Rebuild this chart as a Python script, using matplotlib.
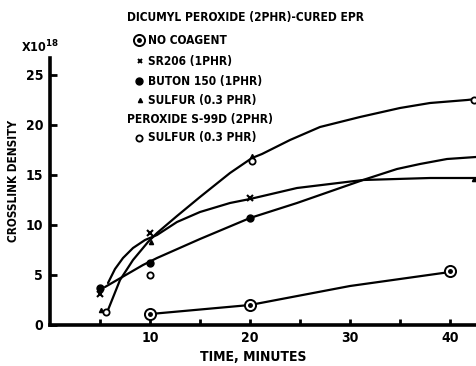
import matplotlib
matplotlib.use("Agg")
import matplotlib.pyplot as plt

# ---- data ----
# marker points
nc_x = [10, 20, 40];            nc_y = [1.1, 2.0, 5.4]          # no coagent
sr_x = [5, 10, 20];             sr_y = [3.1, 9.2, 12.7]         # SR206
bu_x = [5, 10, 20];             bu_y = [3.7, 6.2, 10.7]         # Buton 150
su_x = [5.1, 10.1, 20.2, 42.4]; su_y = [1.5, 8.3, 16.9, 14.6]   # sulfur (dicumyl)
s9_x = [5.6, 10, 20.2, 42.4];   s9_y = [1.35, 5.0, 16.4, 22.5]  # S-99D sulfur

# curves
nc_cx = [10.6, 20, 30, 40];     nc_cy = [1.15, 2.0, 3.9, 5.3]
sr_cx = [5.8, 6.5, 7.3, 8.3, 9.5, 10.7, 12.7, 15, 18, 20, 24.7, 31.3, 38, 42.6]
sr_cy = [4.2, 5.6, 6.7, 7.7, 8.5, 9.0, 10.3, 11.3, 12.2, 12.6, 13.7, 14.5, 14.7, 14.7]
bu_cx = [5.5, 9.3, 10.7, 15, 20, 24.7, 31.3, 34.7, 37, 39.7, 42.6]
bu_cy = [3.8, 6.0, 6.7, 8.6, 10.7, 12.2, 14.5, 15.6, 16.1, 16.6, 16.8]
su_cx = [5.8, 7.0, 8.3, 9.8, 10.7, 12.7, 15, 18, 20.2, 21.2, 24, 27, 31, 35, 38, 41.7, 42.6]
su_cy = [1.5, 4.5, 6.5, 8.3, 9.2, 10.9, 12.8, 15.2, 16.7, 17.1, 18.5, 19.8, 20.8, 21.7, 22.2, 22.5, 22.6]

x_major = [10, 20, 30, 40]
x_minor = [5, 15, 25, 35]
y_ticks = [0, 5, 10, 15, 20, 25]

W, H = 476, 366
fig = plt.figure(figsize=(W / 100, H / 100), dpi=100)
ax = fig.add_axes([50 / W, 1 - 325 / H, 1 - 50 / W, (325 - 58) / H])

fp = dict(family=['DejaVu Sans'], weight='bold', stretch='condensed')

lw = 1.6
for cx, cy in [(nc_cx, nc_cy), (sr_cx, sr_cy), (bu_cx, bu_cy), (su_cx, su_cy)]:
    ax.plot(cx, cy, color='black', lw=lw, solid_capstyle='round', solid_joinstyle='round', zorder=2)

ax.plot(nc_x, nc_y, 'o', ms=8, mfc='white', mec='black', mew=1.4, zorder=3, clip_on=False)
ax.plot(nc_x, nc_y, 'o', ms=2.5, color='black', zorder=4, clip_on=False)
ax.plot(sr_x, sr_y, 'x', ms=4, color='black', mew=1.5, zorder=3)
ax.plot(bu_x, bu_y, 'o', ms=5, color='black', zorder=3)
ax.plot(su_x, su_y, '^', ms=3, color='black', zorder=3)
ax.plot(s9_x, s9_y, 'o', ms=4.5, mfc='white', mec='black', mew=1.3, zorder=3)

ax.set_xlim(0, 42.6)
ax.set_ylim(0, 26.7)
for s in ['top', 'right']:
    ax.spines[s].set_visible(False)
for s in ['left', 'bottom']:
    ax.spines[s].set_linewidth(2.6)

ax.set_xticks(x_major)
ax.set_xticks(x_minor, minor=True)
ax.set_yticks(y_ticks)
ax.tick_params(axis='both', which='both', direction='in', width=2, length=4)
ax.tick_params(axis='x', pad=4)
ax.tick_params(axis='y', length=5, pad=5)
ax.set_xticklabels([str(v) for v in x_major], fontsize=10, **fp)
ax.set_yticklabels([str(v) for v in y_ticks], fontsize=10, **fp)

ax.set_xlabel('TIME, MINUTES', fontsize=10, va='center', **fp)
ax.xaxis.set_label_coords((253 - 50) / 426, -(357 - 325) / 267)
ax.set_ylabel('CROSSLINK DENSITY', fontsize=8.5, va='center', **fp)
ax.yaxis.set_label_coords((14 - 50) / 426, (325 - 181) / 267)

fig.text(21 / W, 1 - 47 / H, r'X10$^{\mathbf{18}}$', fontsize=9, va='center', ha='left', **fp)

def ftxt(x, y, s):
    fig.text(x / W, 1 - y / H, s, fontsize=8.6, va='center', ha='left', **fp)

ftxt(127, 18, 'DICUMYL PEROXIDE (2PHR)-CURED EPR')
ftxt(148, 40, 'NO COAGENT')
ftxt(148, 61, 'SR206 (1PHR)')
ftxt(148, 81, 'BUTON 150 (1PHR)')
ftxt(148, 100, 'SULFUR (0.3 PHR)')
ftxt(127, 119, 'PEROXIDE S-99D (2PHR)')
ftxt(148, 138, 'SULFUR (0.3 PHR)')

def fmark(x, y, **kw):
    fig.lines.append(plt.Line2D([x / W], [1 - y / H], transform=fig.transFigure, **kw))

fmark(139, 40, marker='o', ms=8, mfc='white', mec='black', mew=1.4, ls='none')
fmark(139, 40, marker='o', ms=2.5, color='black', ls='none')
fmark(140, 61, marker='x', ms=3.5, color='black', mew=1.4, ls='none')
fmark(139, 81, marker='o', ms=5, color='black', ls='none')
fmark(140, 100, marker='^', ms=3, color='black', ls='none')
fmark(139, 138, marker='o', ms=4.5, mfc='white', mec='black', mew=1.3, ls='none')

fig.savefig('out.png', dpi=100)
